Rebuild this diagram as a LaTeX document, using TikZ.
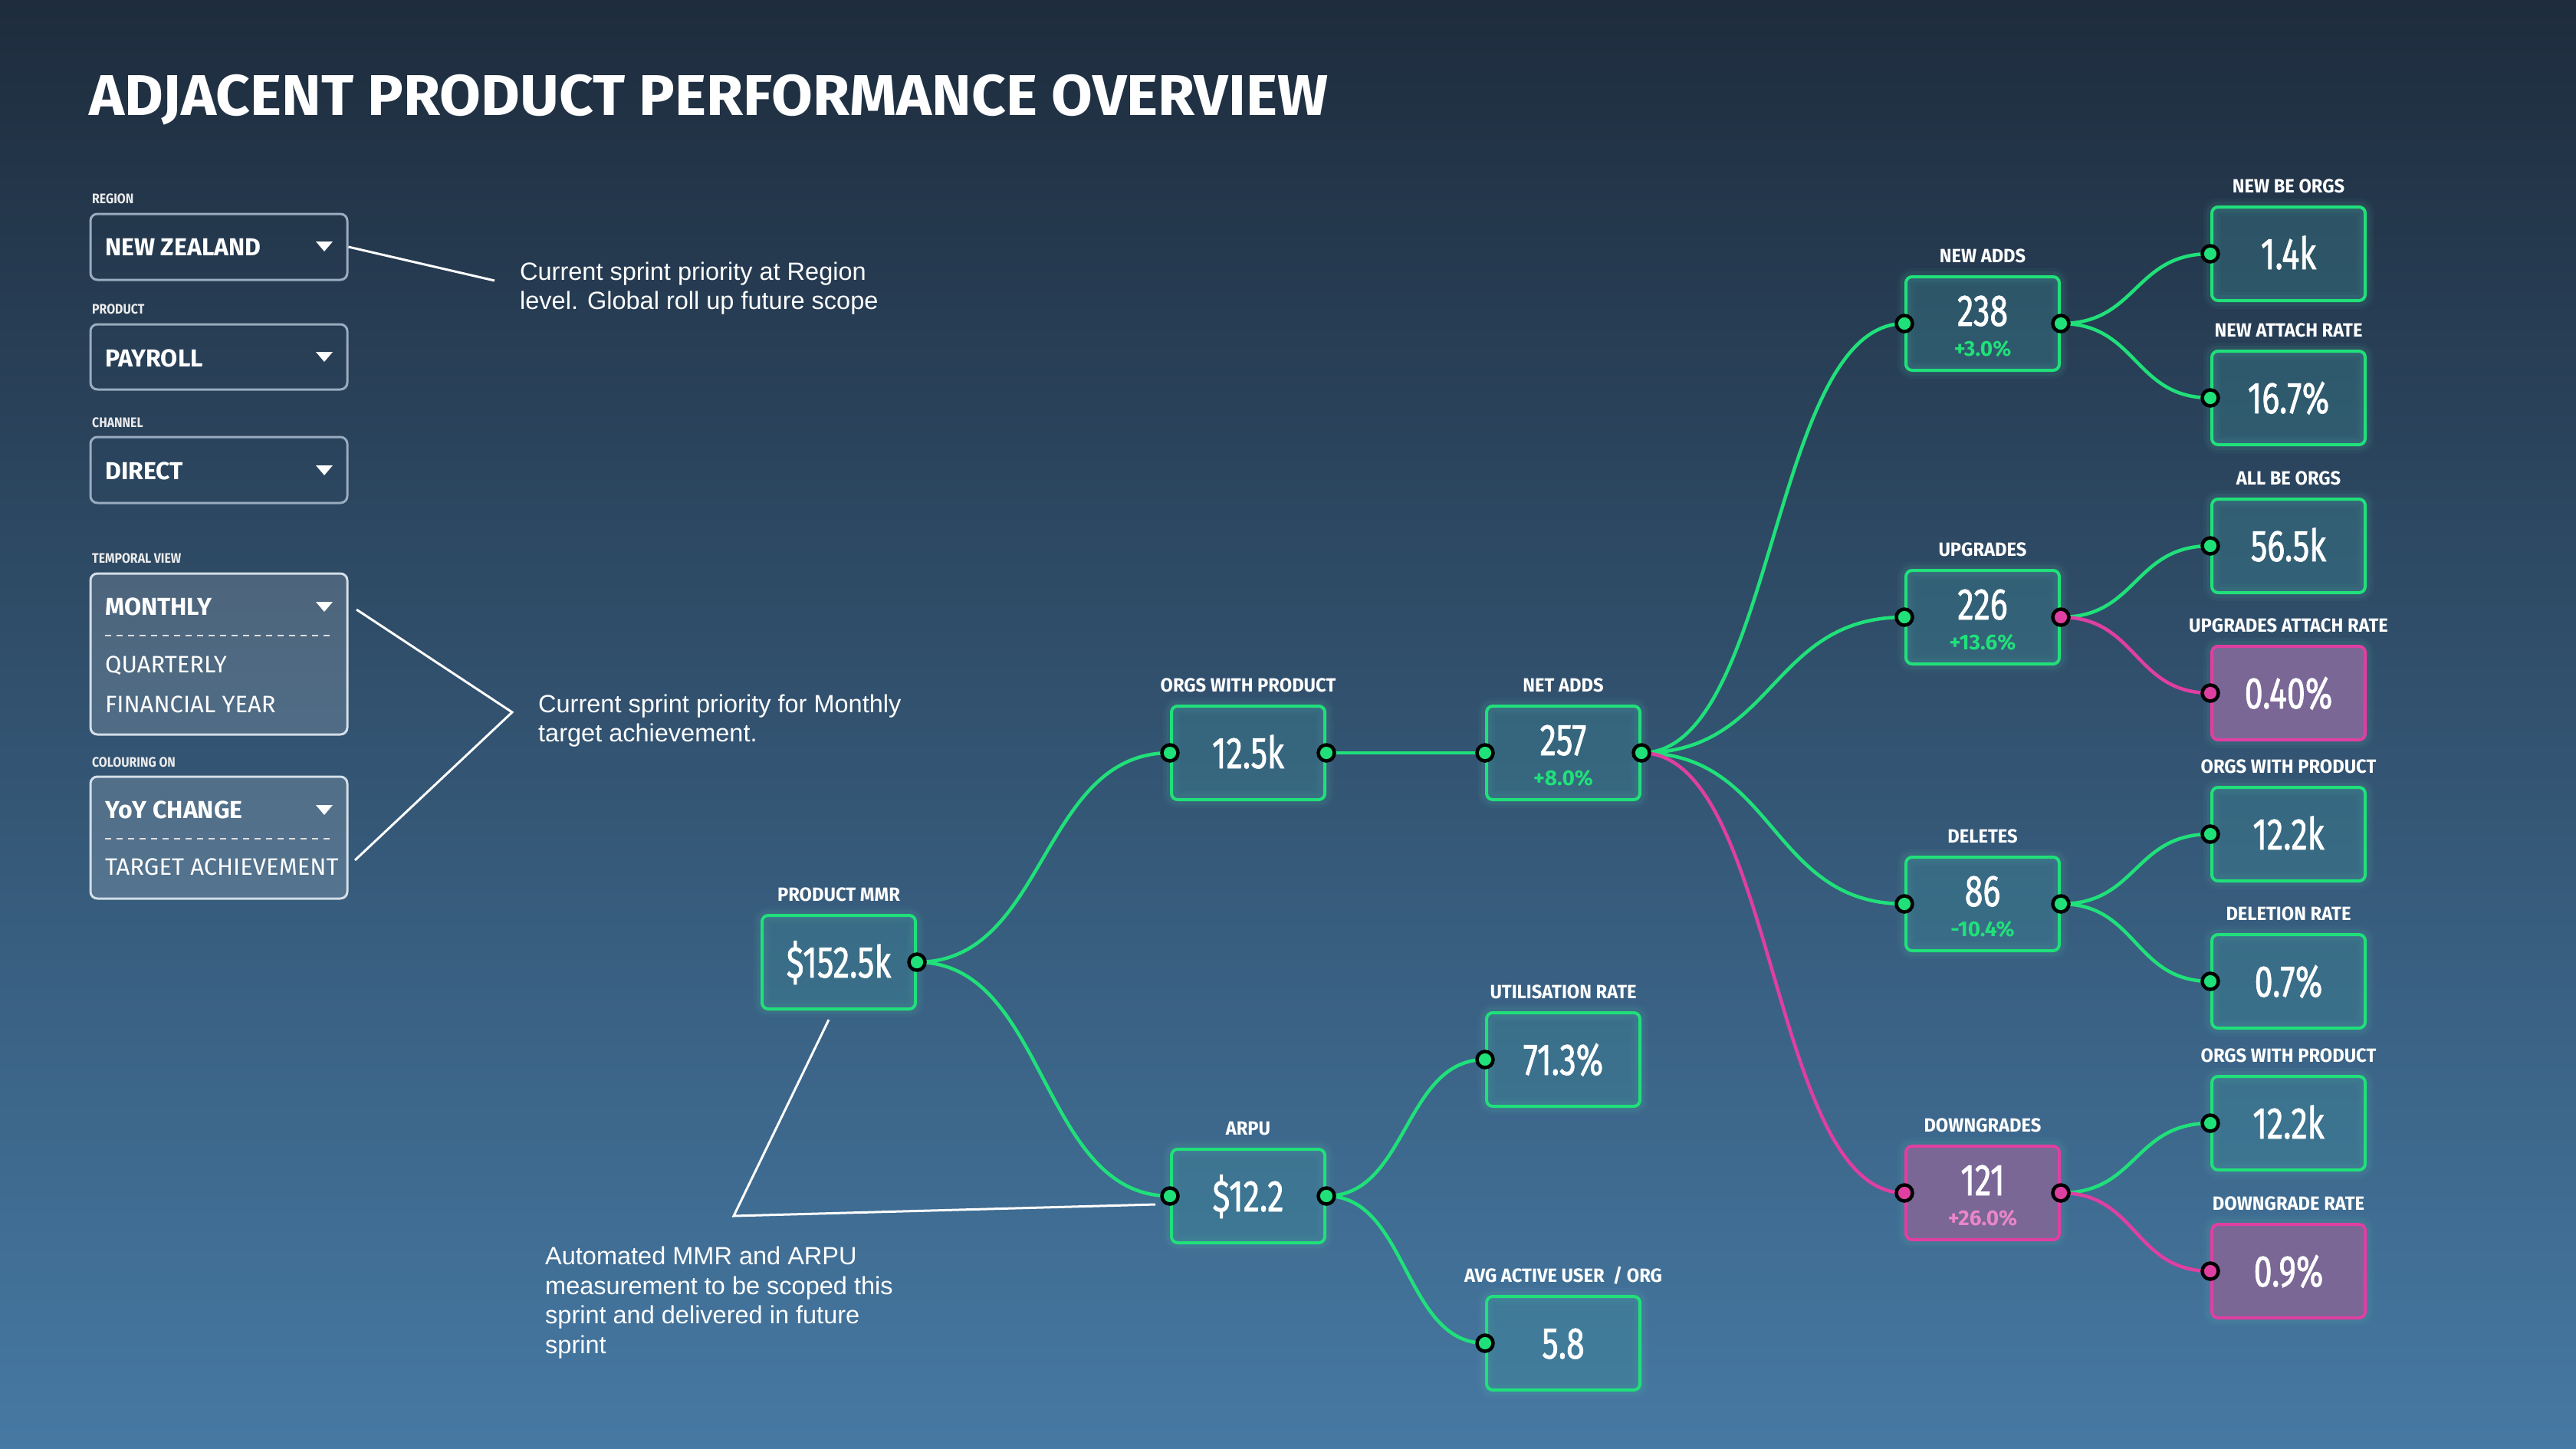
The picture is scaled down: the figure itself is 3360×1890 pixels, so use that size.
\documentclass[tikz,border=0pt]{standalone}
\usepackage{fontspec}
\usepackage{graphicx}
\setmainfont{Fira Sans}
\newfontfamily\annfont{Liberation Sans}
\newfontfamily\numfont{Fira Sans}[FakeStretch=0.74, FakeBold=1.2]
\newfontfamily\labfont{Fira Sans}[FakeStretch=0.95]
\newfontfamily\ddlabfont{Fira Sans}[FakeStretch=0.88]
\newfontfamily\ddfont{Fira Sans}[FakeStretch=1.0]
\usetikzlibrary{calc}
\definecolor{bgtop}{HTML}{1E2C3D}
\definecolor{bgbot}{HTML}{4679A3}
\definecolor{kgreen}{HTML}{20E07A}
\definecolor{kpink}{HTML}{E03FA2}
\definecolor{pinkfill}{HTML}{7A6796}
\definecolor{tealfill}{HTML}{3C8A96}
\definecolor{ddborder}{HTML}{9AACBF}
\definecolor{ddopenborder}{HTML}{D3DEE8}
\definecolor{pinktext}{HTML}{EA86C8}
\definecolor{glow}{HTML}{5FD0B0}
\begin{document}
\begin{tikzpicture}[x=1pt,y=-1pt,
  glowing/.style={preaction={draw=glow, line width=22pt, draw opacity=0.05},
                  preaction={draw=glow, line width=14pt, draw opacity=0.07}},
  mbox/.style={glowing, draw=kgreen, line width=4pt, rounded corners=8pt, minimum width=200pt, minimum height=122pt, fill=tealfill, fill opacity=0.35, draw opacity=1, inner sep=0pt},
  pbox/.style={glowing, draw=kpink, line width=4pt, rounded corners=8pt, minimum width=200pt, minimum height=122pt, fill=pinkfill, inner sep=0pt},
  lab/.style={text=white, font=\labfont\bfseries\fontsize{25}{30}\selectfont, anchor=base, inner sep=0pt},
  val/.style={text=white, font=\numfont\fontsize{58}{60}\selectfont, inner sep=0pt, text height=40pt, text depth=0pt},
  sub/.style={font=\bfseries\fontsize{28}{30}\selectfont, inner sep=0pt, text height=19pt, text depth=0pt},
  gport/.style={circle, draw=black, line width=4.5pt, fill=kgreen, minimum size=21pt, inner sep=0pt},
  pport/.style={gport, fill=kpink},
  gline/.style={draw=kgreen, line width=4.5pt},
  pline/.style={draw=kpink, line width=4.5pt},
  sc/.style={to path={.. controls ($(\tikztostart)+(#1,0)$) and ($(\tikztotarget)+(-#1,0)$) .. (\tikztotarget)}},
  ann/.style={text=white, font=\annfont\fontsize{32.5}{38.5}\selectfont, align=left, anchor=west, inner sep=0pt},
  annline/.style={draw=white, line width=3pt},
  ddbox/.style={draw=ddborder, line width=3pt, rounded corners=9pt, minimum width=335pt, inner sep=0pt},
  ddopen/.style={ddbox, draw=ddopenborder, fill=white, fill opacity=0.15, draw opacity=1},
  ddlab/.style={font=\ddlabfont\bfseries\fontsize{18}{20}\selectfont, text=white!92!black, anchor=base west, inner sep=0pt},
  ddval/.style={font=\ddfont\bfseries\fontsize{32}{36}\selectfont, text=white, anchor=base west, inner sep=0pt},
  ddopt/.style={font=\ddfont\fontsize{31}{36}\selectfont, text=white, anchor=base west, inner sep=0pt},
  ddarrow/.style={fill=white},
  dddash/.style={draw=white!75!gray, line width=2pt, dash pattern=on 8pt off 7pt}
]
\useasboundingbox (0,0) rectangle (3360,1890);
\shade[top color=bgtop, bottom color=bgbot] (0,0) rectangle (3360,1890);

% title
\node[anchor=base west, inner sep=0pt, text=white, font=\bfseries\fontsize{75}{80}\selectfont] (title) at (116,150) {\resizebox{1616pt}{\height}{ADJACENT PRODUCT PERFORMANCE OVERVIEW}};

% ---------- left panel ----------
\node[ddlab] (regionl) at (120,265) {REGION};
\node[ddbox, minimum height=86pt] (region) at (285.5,322) {};
\node[ddval] (regionv) at (137,333) {NEW ZEALAND};
\fill[ddarrow] (412,315) -- (434,315) -- (423,328) -- cycle;

\node[ddlab] (productl) at (120,409) {PRODUCT};
\node[ddbox, minimum height=85pt] (product) at (285.5,465.5) {};
\node[ddval] (productv) at (137,478) {PAYROLL};
\fill[ddarrow] (412,459) -- (434,459) -- (423,472) -- cycle;

\node[ddlab] (channell) at (120,557) {CHANNEL};
\node[ddbox, minimum height=86pt] (channel) at (285.5,613) {};
\node[ddval] (channelv) at (137,625) {DIRECT};
\fill[ddarrow] (412,607) -- (434,607) -- (423,620) -- cycle;

\node[ddlab] (temporall) at (120,734) {TEMPORAL VIEW};
\node[ddopen, minimum height=210pt] (temporal) at (285.5,853) {};
\node[ddval] (temporalv) at (137,802) {MONTHLY};
\fill[ddarrow] (412,785) -- (434,785) -- (423,798) -- cycle;
\draw[dddash] (137,829) -- (432,829);
\node[ddopt] (quarterly) at (137,877) {QUARTERLY};
\node[ddopt] (finyear) at (137,929) {FINANCIAL YEAR};

\node[ddlab] (colourl) at (120,1000) {COLOURING ON};
\node[ddopen, minimum height=159pt] (colour) at (285.5,1092.5) {};
\node[ddval] (colourv) at (137,1067) {YoY CHANGE};
\fill[ddarrow] (412,1050) -- (434,1050) -- (423,1063) -- cycle;
\draw[dddash] (137,1094) -- (432,1094);
\node[ddopt] (target) at (137,1141) {TARGET ACHIEVEMENT};

% ---------- annotations ----------
\coordinate (a1e) at (645,366);
\draw[annline] (region.east) -- (a1e);
\node[ann] (ann1) at (678,376) {Current sprint priority at Region\\level. Global roll up future scope};

\coordinate (a2s) at (465,795);
\coordinate (a2m) at (668,929);
\coordinate (a2e) at (463,1122);
\draw[annline] (a2s) -- (a2m) -- (a2e);
\node[ann] (ann2) at (702,940) {Current sprint priority for Monthly\\target achievement.};

% ---------- metric boxes ----------
\node[mbox] (mmr) at (1094,1255) {};
\node[val] (mmrv) at (mmr) {\$152.5k};
\node[lab] (mmrl) at ([yshift=17pt]mmr.north) {PRODUCT MMR};

\node[mbox] (orgs) at (1628,982) {};
\node[val] (orgsv) at (orgs) {12.5k};
\node[lab] (orgsl) at ([yshift=17pt]orgs.north) {ORGS WITH PRODUCT};

\node[mbox] (net) at (2039,982) {};
\node[val] (netv) at ([yshift=17pt]net.center) {257};
\node[sub, text=kgreen] (nets) at ([yshift=-33pt]net.center) {+8.0\%};
\node[lab] (netl) at ([yshift=17pt]net.north) {NET ADDS};

\node[mbox] (arpu) at (1628,1560) {};
\node[val] (arpuv) at (arpu) {\$12.2};
\node[lab] (arpul) at ([yshift=17pt]arpu.north) {ARPU};

\node[mbox] (util) at (2039,1382) {};
\node[val] (utilv) at (util) {71.3\%};
\node[lab] (utill) at ([yshift=17pt]util.north) {UTILISATION RATE};

\node[mbox] (avg) at (2039,1752) {};
\node[val] (avgv) at (avg) {5.8};
\node[lab] (avgl) at ([yshift=17pt]avg.north) {AVG ACTIVE USER\ \ / ORG};

\node[mbox] (newadds) at (2586,422) {};
\node[val] (newaddsv) at ([yshift=17pt]newadds.center) {238};
\node[sub, text=kgreen] (newaddss) at ([yshift=-33pt]newadds.center) {+3.0\%};
\node[lab] (newaddsl) at ([yshift=17pt]newadds.north) {NEW ADDS};

\node[mbox] (upg) at (2586,805) {};
\node[val] (upgv) at ([yshift=17pt]upg.center) {226};
\node[sub, text=kgreen] (upgs) at ([yshift=-33pt]upg.center) {+13.6\%};
\node[lab] (upgl) at ([yshift=17pt]upg.north) {UPGRADES};

\node[mbox] (del) at (2586,1179) {};
\node[val] (delv) at ([yshift=17pt]del.center) {86};
\node[sub, text=kgreen] (dels) at ([yshift=-33pt]del.center) {-10.4\%};
\node[lab] (dell) at ([yshift=17pt]del.north) {DELETES};

\node[pbox] (down) at (2586,1556) {};
\node[val] (downv) at ([yshift=17pt]down.center) {121};
\node[sub, text=pinktext] (downs) at ([yshift=-33pt]down.center) {+26.0\%};
\node[lab] (downl) at ([yshift=17pt]down.north) {DOWNGRADES};

\node[mbox] (nbe) at (2985,331) {};
\node[val] (nbev) at (nbe) {1.4k};
\node[lab] (nbel) at ([yshift=17pt]nbe.north) {NEW BE ORGS};

\node[mbox] (nar) at (2985,519) {};
\node[val] (narv) at (nar) {16.7\%};
\node[lab] (narl) at ([yshift=17pt]nar.north) {NEW ATTACH RATE};

\node[mbox] (abe) at (2985,712) {};
\node[val] (abev) at (abe) {56.5k};
\node[lab] (abel) at ([yshift=17pt]abe.north) {ALL BE ORGS};

\node[pbox] (uar) at (2985,904) {};
\node[val] (uarv) at (uar) {0.40\%};
\node[lab] (uarl) at ([yshift=17pt]uar.north) {UPGRADES ATTACH RATE};

\node[mbox] (owpa) at (2985,1088) {};
\node[val] (owpav) at (owpa) {12.2k};
\node[lab] (owpal) at ([yshift=17pt]owpa.north) {ORGS WITH PRODUCT};

\node[mbox] (dr) at (2985,1280) {};
\node[val] (drv) at (dr) {0.7\%};
\node[lab] (drl) at ([yshift=17pt]dr.north) {DELETION RATE};

\node[mbox] (owpb) at (2985,1465) {};
\node[val] (owpbv) at (owpb) {12.2k};
\node[lab] (owpbl) at ([yshift=17pt]owpb.north) {ORGS WITH PRODUCT};

\node[pbox] (dgr) at (2985,1658) {};
\node[val] (dgrv) at (dgr) {0.9\%};
\node[lab] (dgrl) at ([yshift=17pt]dgr.north) {DOWNGRADE RATE};

% annotation 3
\coordinate (a3s) at (1081,1330);
\coordinate (a3m) at (957,1586);
\coordinate (a3e) at (1507,1571);
\draw[annline] (a3s) -- (a3m) -- (a3e);
\node[ann] (ann3) at (711,1699) {Automated MMR and ARPU\\measurement to be scoped this\\sprint and delivered in future\\sprint};

% ---------- connectors ----------
\draw[gline] (mmr.east) to[sc=170] (orgs.west);
\draw[gline] (mmr.east) to[sc=170] (arpu.west);
\draw[gline] (orgs.east) -- (net.west);
\draw[gline] (net.east) to[sc=175] (newadds.west);
\draw[gline] (net.east) to[sc=175] (upg.west);
\draw[gline] (net.east) to[sc=175] (del.west);
\draw[pline] (net.east) to[sc=175] (down.west);
\draw[gline] (arpu.east) to[sc=106] (util.west);
\draw[gline] (arpu.east) to[sc=106] (avg.west);
\draw[gline] (newadds.east) to[sc=100] (nbe.west);
\draw[gline] (newadds.east) to[sc=100] (nar.west);
\draw[gline] (upg.east) to[sc=100] (abe.west);
\draw[pline] (upg.east) to[sc=100] (uar.west);
\draw[gline] (del.east) to[sc=100] (owpa.west);
\draw[gline] (del.east) to[sc=100] (dr.west);
\draw[gline] (down.east) to[sc=100] (owpb.west);
\draw[pline] (down.east) to[sc=100] (dgr.west);

% ---------- ports ----------
\node[gport] (p1) at (mmr.east) {};
\node[gport] (p2) at (orgs.west) {};
\node[gport] (p3) at (orgs.east) {};
\node[gport] (p4) at (net.west) {};
\node[gport] (p5) at (net.east) {};
\node[gport] (p6) at (arpu.west) {};
\node[gport] (p7) at (arpu.east) {};
\node[gport] (p8) at (util.west) {};
\node[gport] (p9) at (avg.west) {};
\node[gport] (p10) at (newadds.west) {};
\node[gport] (p11) at (newadds.east) {};
\node[gport] (p12) at (upg.west) {};
\node[pport] (p13) at (upg.east) {};
\node[gport] (p14) at (del.west) {};
\node[gport] (p15) at (del.east) {};
\node[pport] (p16) at (down.west) {};
\node[pport] (p17) at (down.east) {};
\node[gport] (p18) at (nbe.west) {};
\node[gport] (p19) at (nar.west) {};
\node[gport] (p20) at (abe.west) {};
\node[pport] (p21) at (uar.west) {};
\node[gport] (p22) at (owpa.west) {};
\node[gport] (p23) at (dr.west) {};
\node[gport] (p24) at (owpb.west) {};
\node[pport] (p25) at (dgr.west) {};
\end{tikzpicture}
\end{document}
